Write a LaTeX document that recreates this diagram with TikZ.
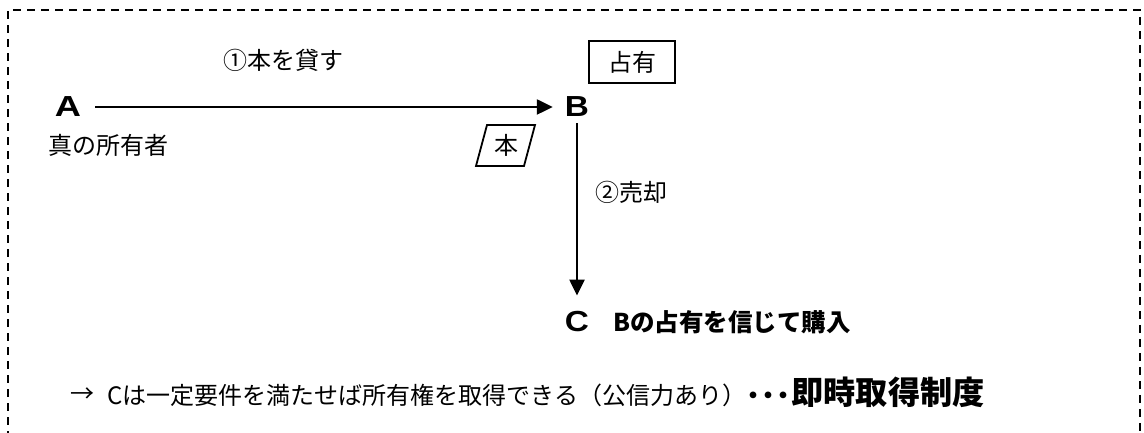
\documentclass[tikz,border=0pt]{standalone}
\usepackage{fontspec}
\usetikzlibrary{arrows.meta,calc}
\newfontfamily\jp{Noto Sans CJK JP}
\newfontfamily\latb{Liberation Sans}
\tikzset{
  jptext/.style={font=\jp\fontsize{24}{27}\selectfont, inner sep=0pt},
  letter/.style={font=\latb\bfseries\fontsize{29}{31}\selectfont, inner sep=0pt},
  conn/.style={line width=2.5pt, -{Triangle[length=16pt,width=15pt]}},
  frame/.style={line width=2pt, dash pattern=on 8pt off 6pt},
}
\begin{document}
\begin{tikzpicture}[x=1pt,y=1pt]
\useasboundingbox (0,0) rectangle (1144,433);
\begin{scope}
\clip (0,0) rectangle (1144,433);
\draw[frame] (8,-20) -- (8,423) -- (1140,423) -- (1140,-20);
\end{scope}
% nodes
\node[letter] (A) at (68,326) {\scalebox{1.25}[1]{A}};
\node[letter] (B) at (577,326) {\scalebox{1.15}[1]{B}};
\node[letter] (C) at (577,111) {\scalebox{1.15}[1]{C}};
\node[jptext] (lend) at (283,373) {①本を貸す};
\node[jptext, anchor=west] (owner) at (48,288) {真の所有者};
\node[jptext, draw, line width=1.8pt, minimum width=86pt, minimum height=42pt] (poss) at (632,371) {占有};
\node[jptext] (hon) at (506,288) {本};
\draw[line width=1.8pt] ($(hon)+(-19,20)$) -- ($(hon)+(29,20)$) -- ($(hon)+(18,-21)$) -- ($(hon)+(-30,-21)$) -- cycle;
\node[jptext, anchor=west] (sale) at (595,241) {②売却};
\node[font=\jp\bfseries\fontsize{24.5}{27}\selectfont, inner sep=0pt, anchor=west] (believe) at (613,111) {Bの占有を信じて購入};
% connectors
\draw[conn, shorten <=14pt, shorten >=12pt] (A.east) -- (B.west);
\draw[conn, shorten <=6pt, shorten >=16pt] (B.south) -- (C.north);
% bottom line
\node[jptext] (arr) at (82,38) {→};
\node[jptext, anchor=west] (concl) at (107,38) {Cは一定要件を満たせば所有権を取得できる（公信力あり）};
\node[font=\jp\bfseries\fontsize{32.2}{35}\selectfont, inner sep=0pt, anchor=base west] (sys) at (concl.base east) {{\fontsize{24}{27}\selectfont\makebox[15pt]{・}\makebox[15pt]{・}\makebox[15pt]{・}}即時取得制度};
\end{tikzpicture}
\end{document}
